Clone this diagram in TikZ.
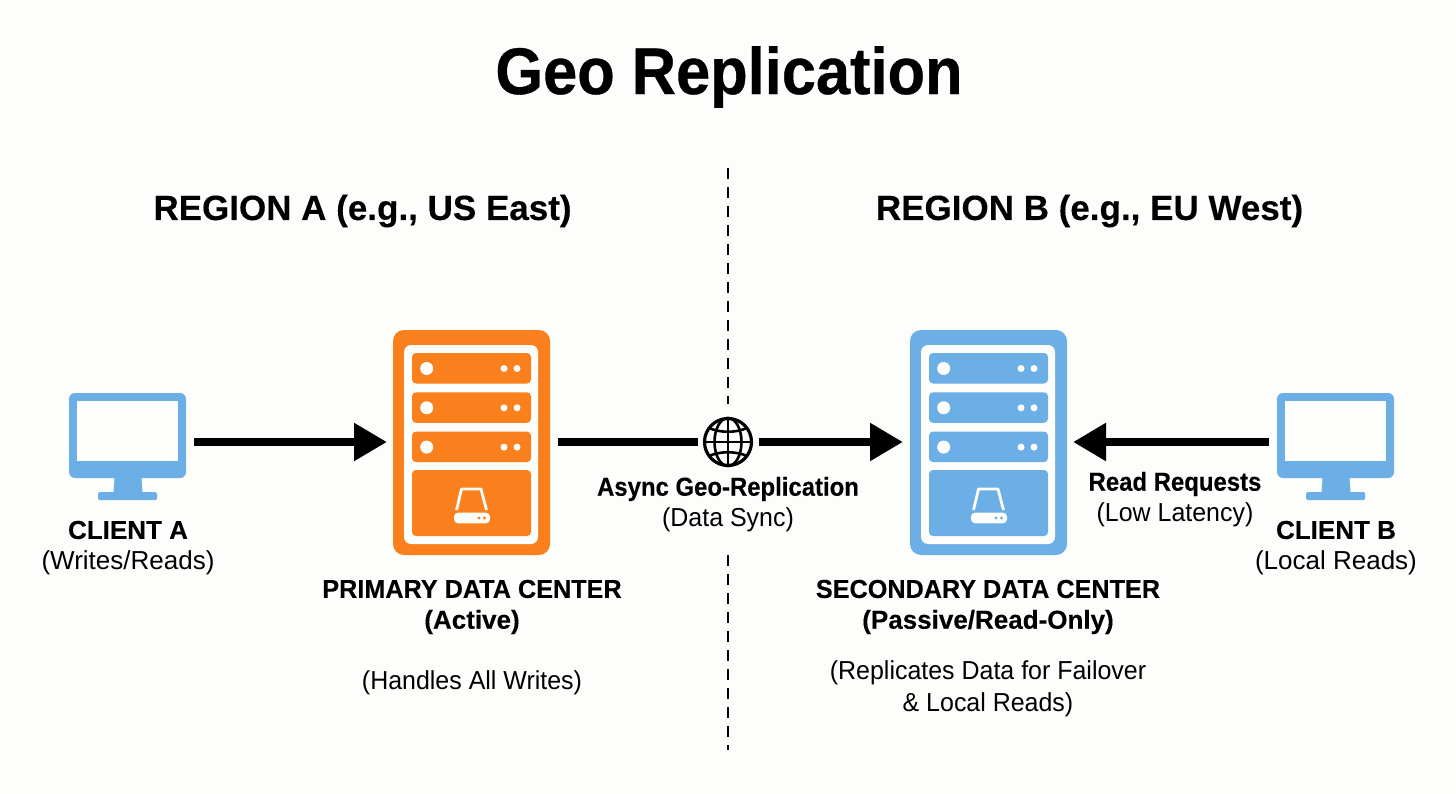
\documentclass[tikz,border=0pt]{standalone}
\usepackage{fontspec}
\setmainfont{Liberation Sans}
\newfontfamily\titlefont[FakeStretch=0.93,FakeBold=0.5]{Liberation Sans Bold}
\newfontfamily\narrowbold[FakeStretch=0.92,FakeBold=0.2]{Liberation Sans Bold}
\newfontfamily\capsbold[FakeStretch=0.97,FakeBold=0.2]{Liberation Sans Bold}
\newfontfamily\fullbold[FakeBold=0.2]{Liberation Sans Bold}
\newfontfamily\narrowreg[FakeStretch=0.96]{Liberation Sans}
\usetikzlibrary{arrows.meta}
\definecolor{bgc}{HTML}{FDFDFB}
\definecolor{orangeC}{HTML}{F9801D}
\definecolor{blueC}{HTML}{6CAEE6}
\tikzset{
 anchorbox/.style={inner sep=0pt,outer sep=0pt,minimum width=#1},
 flow/.style={line width=8.5pt,-{Triangle[length=33pt,width=36pt]}},
 plainflow/.style={line width=8.5pt},
 divider/.style={line width=2.7pt,dash pattern=on 11pt off 8pt},
 lbl/.style={inner sep=0pt,align=center,text=black},
 bl/.style={lbl,font=\fullbold\fontsize{26}{32}\selectfont},
 blc/.style={lbl,font=\capsbold\fontsize{26}{32}\selectfont},
 bln/.style={lbl,font=\narrowbold\fontsize{26}{32}\selectfont},
 sl/.style={lbl,font=\fontsize{26}{32}\selectfont},
 sln/.style={lbl,font=\narrowreg\fontsize{26}{32}\selectfont},
 hd/.style={lbl,font=\fullbold\fontsize{35}{40}\selectfont},
}
\newcommand{\serverat}[3]{% x offset, colour, name
 \begin{scope}[shift={(#1,0)}]
  \fill[#2,rounded corners=11pt] (393,330) rectangle (550,555);
  \fill[bgc,rounded corners=7pt] (404,345) rectangle (538,544);
  \foreach \yy in {353,392.3,431.6}{
   \fill[#2,rounded corners=4pt] (412,\yy) rectangle (531,\yy+30.5);
   \fill[bgc] (426.7,\yy+15.5) circle[radius=6.5];
   \fill[bgc] (504,\yy+15.5) circle[radius=3.5];
   \fill[bgc] (517,\yy+15.5) circle[radius=3.5];
  }
  \fill[#2,rounded corners=4pt] (412,470) rectangle (531,536);
  \draw[bgc,line width=2.8pt,line join=round] (456.5,510) -- (461.5,489) -- (481,489) -- (486.5,510);
  \fill[bgc,rounded corners=4pt] (454,512.7) rectangle (490,523.3);
  \fill[#2] (479,518) circle[radius=1.6];
  \fill[#2] (484.5,518) circle[radius=1.6];
  \node[anchorbox=157pt,minimum height=200pt] (#3) at (471.5,442) {};
 \end{scope}}
\newcommand{\monitorat}[2]{% x offset, name
 \begin{scope}[shift={(#1,0)}]
  \fill[blueC] (115,470) -- (141,470) -- (142.5,493) -- (113.5,493) -- cycle;
  \fill[blueC,rounded corners=1.5pt] (98,492) rectangle (157,500);
  \fill[blueC,rounded corners=6pt] (69,393) rectangle (186,478);
  \fill[bgc] (77,401) rectangle (178,461);
  \node[anchorbox=117pt,minimum height=72pt] (#2) at (127.5,442) {};
 \end{scope}}
\begin{document}
\begin{tikzpicture}[x=1pt,y=-1pt]
\useasboundingbox[fill=bgc] (0,0) rectangle (1456,794);
\node[lbl,font=\titlefont\fontsize{66}{70}\selectfont] (title) at (729,77) {Geo Replication};
\node[hd] (regA) at (362.5,211) {REGION A (e.g., US East)};
\node[hd] (regB) at (1089.5,211) {REGION B (e.g., EU West)};
\coordinate (d1) at (728,168);
\coordinate (d2) at (728,404);
\coordinate (d3) at (728,555);
\coordinate (d4) at (728,750);
\draw[divider] (d1) -- (d2);
\draw[divider] (d3) -- (d4);
\monitorat{0}{clientA}
\monitorat{1208}{clientB}
\serverat{0}{orangeC}{primary}
\serverat{517}{blueC}{secondary}
% globe
\node[circle,minimum size=47pt,inner sep=0pt,outer sep=0pt,line width=3.2pt,draw=black,fill=bgc] (globe) at (728,442) {};
\begin{scope}[line width=2.6pt,black]
 \draw (728,418) -- (728,466);
 \draw (728,442) ellipse[x radius=13.5,y radius=24];
 \draw (704,442) -- (752,442);
 \draw (709,428) .. controls (720,433) and (736,433) .. (747,428);
 \draw (709,456) .. controls (720,451) and (736,451) .. (747,456);
\end{scope}
\draw[flow] ([xshift=8pt]clientA.east) -- ([xshift=-6pt]primary.west);
\draw[plainflow] ([xshift=8pt]primary.east) -- ([xshift=-7pt]globe.west);
\draw[flow] ([xshift=7pt]globe.east) -- ([xshift=-7pt]secondary.west);
\draw[flow] ([xshift=-8pt]clientB.west) -- ([xshift=6pt]secondary.east);
\node[bl] (lA) at (128,530) {CLIENT A};
\node[sl] (lA2) at (128,563) {(Writes/Reads)};
\node[bl] (lB) at (1336,530) {CLIENT B};
\node[sl] (lB2) at (1336,563) {(Local Reads)};
\node[blc] (p1) at (472,589) {PRIMARY DATA CENTER};
\node[bl] (p2) at (472,622) {(Active)};
\node[sln] (p3) at (472,683) {(Handles All Writes)};
\node[blc] (s1) at (988,589) {SECONDARY DATA CENTER};
\node[bl] (s2) at (988,622) {(Passive/Read-Only)};
\node[sln] (s3) at (988,689) {(Replicates Data for Failover\\\& Local Reads)};
\node[bln] (r1) at (728,489) {Async Geo-Replication};
\node[sln] (r2) at (728,520) {(Data Sync)};
\node[bln] (q1) at (1175,484) {Read Requests};
\node[sln] (q2) at (1175,515) {(Low Latency)};
\end{tikzpicture}
\end{document}
